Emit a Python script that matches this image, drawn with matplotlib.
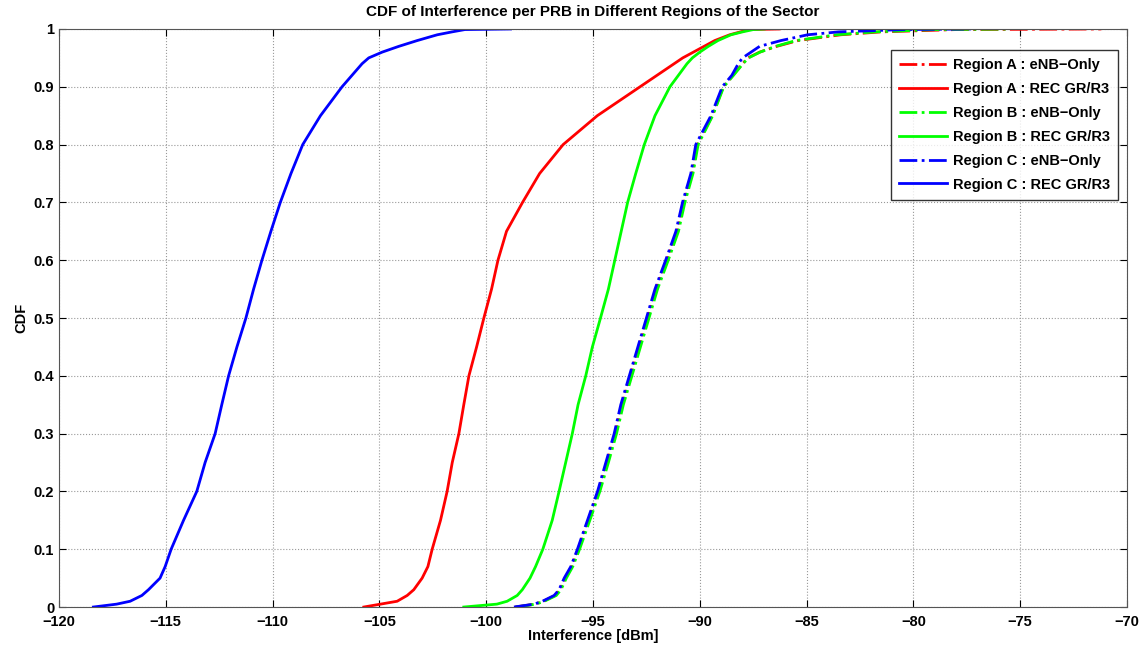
import numpy as np
import matplotlib.pyplot as plt

cdf_levels = [0.0, 0.005, 0.01, 0.02, 0.03, 0.05, 0.07, 0.1, 0.15, 0.2, 0.25, 0.3, 0.35, 0.4,
              0.45, 0.5, 0.55, 0.6, 0.65, 0.7, 0.75, 0.8, 0.85, 0.9, 0.92, 0.94, 0.95, 0.96,
              0.97, 0.98, 0.99, 0.995, 0.999, 1.0]

# interference [dBm] at each cdf level
a_enb = [-98.65, -97.72, -97.33, -96.78, -96.55, -96.30, -96.00, -95.70, -95.22, -94.75, -94.36,
         -93.97, -93.65, -93.25, -92.85, -92.45, -92.05, -91.55, -91.06, -90.75, -90.36, -90.12,
         -89.42, -88.90, -88.45, -88.00, -87.75, -87.20, -86.40, -85.40, -83.40, -81.50, -78.00, -71.20]
a_rec = [-105.73, -104.95, -104.17, -103.70, -103.39, -103.00, -102.73, -102.53, -102.14, -101.83,
         -101.59, -101.28, -101.05, -100.81, -100.45, -100.11, -99.75, -99.45, -99.05, -98.30,
         -97.50, -96.40, -94.80, -92.80, -92.00, -91.20, -90.80, -90.30, -89.80, -89.30, -88.60,
         -88.10, -87.70, -86.28]
b_enb = [-98.60, -97.68, -97.28, -96.72, -96.50, -96.25, -95.95, -95.63, -95.15, -94.68, -94.28,
         -93.90, -93.58, -93.18, -92.78, -92.38, -91.98, -91.48, -91.00, -90.70, -90.32, -90.08,
         -89.40, -88.88, -88.42, -87.98, -87.72, -87.18, -86.45, -85.50, -83.60, -81.80, -79.00, -75.50]
b_rec = [-101.05, -99.50, -99.02, -98.55, -98.31, -97.95, -97.69, -97.35, -96.91, -96.59, -96.28,
         -95.97, -95.70, -95.34, -95.03, -94.65, -94.28, -93.98, -93.68, -93.38, -93.00, -92.60,
         -92.10, -91.40, -91.00, -90.60, -90.35, -90.00, -89.60, -89.15, -88.54, -88.00, -87.50, -86.98]
c_enb = [-98.70, -97.76, -97.37, -96.82, -96.59, -96.35, -96.04, -95.73, -95.26, -94.79, -94.40,
         -94.01, -93.70, -93.30, -92.90, -92.50, -92.10, -91.60, -91.12, -90.81, -90.42, -90.19,
         -89.48, -88.95, -88.50, -88.20, -88.00, -87.60, -87.20, -86.20, -84.95, -83.50, -80.50, -77.30]
c_rec = [-118.39, -117.30, -116.67, -116.12, -115.81, -115.27, -115.03, -114.75, -114.17, -113.55,
         -113.16, -112.69, -112.38, -112.06, -111.67, -111.25, -110.89, -110.50, -110.08, -109.64,
         -109.14, -108.59, -107.76, -106.75, -106.28, -105.81, -105.50, -104.87, -104.09, -103.23,
         -102.29, -101.60, -101.00, -98.86]

labels = ["Region A : eNB\u2212Only", "Region A : REC GR/R3",
          "Region B : eNB\u2212Only", "Region B : REC GR/R3",
          "Region C : eNB\u2212Only", "Region C : REC GR/R3"]

plt.rcParams['font.family'] = ['Liberation Sans', 'DejaVu Sans']
plt.rcParams['font.weight'] = 'bold'

fig = plt.figure(figsize=(11.39, 6.53), dpi=100)
ax = fig.add_axes([0.0518, 0.0704, 0.9377, 0.8852])

ax.plot(a_enb, cdf_levels, color='red', linestyle='-.', lw=2, label=labels[0])
ax.plot(a_rec, cdf_levels, color='red', linestyle='-', lw=2, label=labels[1])
ax.plot(b_enb, cdf_levels, color='#00ff00', linestyle='-.', lw=2, label=labels[2])
ax.plot(b_rec, cdf_levels, color='#00ff00', linestyle='-', lw=2, label=labels[3])
ax.plot(c_enb, cdf_levels, color='blue', linestyle='-.', lw=2, label=labels[4])
ax.plot(c_rec, cdf_levels, color='blue', linestyle='-', lw=2, label=labels[5])

ax.set_xlim(-120, -70)
ax.set_ylim(0, 1)
ax.set_xticks(np.arange(-120, -69, 5))
ax.set_yticks(np.arange(0, 1.01, 0.1))
ax.set_yticklabels(['0', '0.1', '0.2', '0.3', '0.4', '0.5', '0.6', '0.7', '0.8', '0.9', '1'])
ax.tick_params(labelsize=10.5, direction='in', top=True, right=True, length=5)
ax.tick_params(axis='x', pad=6)
for lab in ax.get_xticklabels() + ax.get_yticklabels():
    lab.set_fontweight('bold')
ax.grid(True, linestyle=':', color='#999999', lw=0.8)
for s in ax.spines.values():
    s.set_color('#555555')

ax.set_xlabel("Interference [dBm]", fontsize=10.5, fontweight='bold', labelpad=0)
ax.set_ylabel("CDF", fontsize=10.5, fontweight='bold', labelpad=4)
ax.set_title("CDF of Interference per PRB in Different Regions of the Sector",
             fontsize=11, fontweight='bold', pad=9.5)

leg = ax.legend(loc='upper right', bbox_to_anchor=(0.9916, 0.9637), fancybox=False,
                edgecolor='black', fontsize=10.5, borderaxespad=0, handlelength=3.3,
                handletextpad=0.4, labelspacing=0.68, borderpad=0.55)
leg.get_frame().set_linewidth(1.0)
for t in leg.get_texts():
    t.set_fontweight('bold')

fig.savefig("out.png", dpi=100)
